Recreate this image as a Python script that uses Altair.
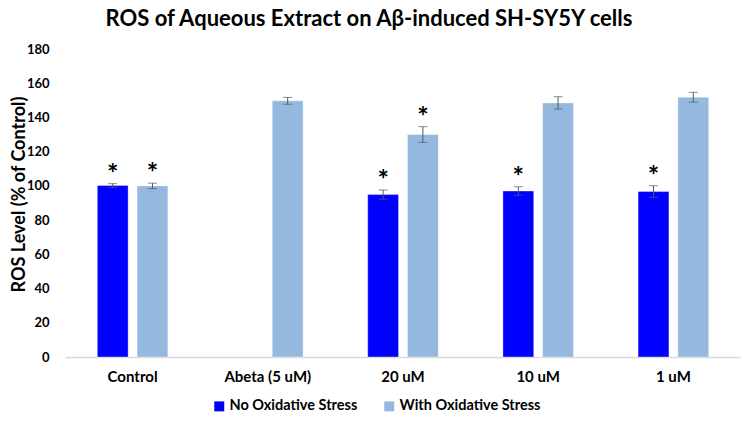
import altair as alt
import pandas as pd

categories = ["Control", "Abeta (5 uM)", "20 uM", "10 uM", "1 uM"]
series_names = ["No Oxidative Stress", "With Oxidative Stress"]
no_stress = [100.2, None, 94.9, 97.0, 96.7]
no_stress_err = [1.1, None, 2.7, 2.5, 3.4]
no_stress_star = [True, False, True, True, True]
with_stress = [100.0, 149.7, 130.0, 148.5, 151.8]
with_stress_err = [1.6, 2.0, 4.6, 3.6, 2.9]
with_stress_star = [True, False, True, False, False]
y_ticks = [0, 20, 40, 60, 80, 100, 120, 140, 160, 180]

rows = []
for i, c in enumerate(categories):
    if no_stress[i] is not None:
        rows.append(dict(cat=c, series=series_names[0], val=no_stress[i],
                         lo=no_stress[i] - no_stress_err[i], hi=no_stress[i] + no_stress_err[i],
                         star="*" if no_stress_star[i] else ""))
    rows.append(dict(cat=c, series=series_names[1], val=with_stress[i],
                     lo=with_stress[i] - with_stress_err[i], hi=with_stress[i] + with_stress_err[i],
                     star="*" if with_stress_star[i] else ""))
df = pd.DataFrame(rows)

FONT = "Lato"
Y_TITLE = "ROS Level (% of Control)"

x_axis = alt.Axis(labelAngle=0, ticks=False, domainColor="#D9D9D9", domainWidth=1.5,
                  labelFont=FONT, labelFontSize=15, labelFontWeight="bold",
                  labelColor="#000000", labelPadding=12)
x_scale = alt.Scale(domain=categories, paddingInner=0.478, paddingOuter=0.239)
x_enc = alt.X("cat:N", sort=categories, title=None, scale=x_scale, axis=x_axis)
xo_enc = alt.XOffset("series:N", scale=alt.Scale(domain=series_names, paddingInner=0.225, paddingOuter=0))
y_scale = alt.Scale(domain=[0, 180], nice=False)
y_axis = alt.Axis(values=y_ticks, grid=False, domain=False, ticks=False, labelOverlap=False,
                  labelFont=FONT, labelFontSize=13, labelFontWeight="bold",
                  labelColor="#000000", labelPadding=16,
                  titleFont=FONT, titleFontSize=18, titleFontWeight="bold",
                  titleColor="#000000", titleX=-46, titleY=145,
                  titleAlign="center", titleBaseline="middle", titleAngle=270)


def yenc(field):
    return alt.Y(field, scale=y_scale, axis=y_axis, title=Y_TITLE)


bars = alt.Chart(df).mark_bar(stroke="#FFFFFF", strokeOpacity=0.35, strokeWidth=1).encode(
    x=x_enc,
    xOffset=xo_enc,
    y=yenc("val:Q"),
    color=alt.Color("series:N", scale=alt.Scale(domain=series_names, range=["#0000FF", "#95B8DF"]),
                    legend=alt.Legend(title=None, orient="none", direction="horizontal",
                                      legendX=147, legendY=350, symbolType="square",
                                      symbolSize=100, symbolStrokeWidth=0,
                                      labelFont=FONT, labelFontSize=14.5, labelFontWeight="bold",
                                      labelColor="#000000", columnPadding=24, labelOffset=3)),
)

rules = alt.Chart(df).mark_rule(color="#595959", strokeWidth=1).encode(
    x=x_enc, xOffset=xo_enc, y=yenc("lo:Q"), y2="hi:Q")

caps_lo = alt.Chart(df).mark_tick(color="#595959", thickness=1, size=9).encode(
    x=x_enc, xOffset=xo_enc, y=yenc("lo:Q"))
caps_hi = alt.Chart(df).mark_tick(color="#595959", thickness=1, size=9).encode(
    x=x_enc, xOffset=xo_enc, y=yenc("hi:Q"))

stars = alt.Chart(df).mark_text(font=FONT, fontSize=27, fontWeight="bold", color="#000000",
                                baseline="middle", dy=-9).encode(
    x=x_enc, xOffset=xo_enc, y=yenc("hi:Q"), text="star:N")

chart = alt.layer(bars, rules, caps_lo, caps_hi, stars).properties(
    width=676, height=308,
    autosize=alt.AutoSizeParams(type="none"),
    padding={"left": 57, "top": 41, "right": 0, "bottom": 56},
    title=alt.TitleParams("ROS of Aqueous Extract  on A\u03b2-induced SH-SY5Y cells",
                          font=FONT, fontSize=22, fontWeight="bold", color="#000000",
                          anchor="middle", dx=-34, offset=12),
).configure_view(stroke=None)

chart.save("out.html", embed_options={"renderer": "svg", "actions": False})
